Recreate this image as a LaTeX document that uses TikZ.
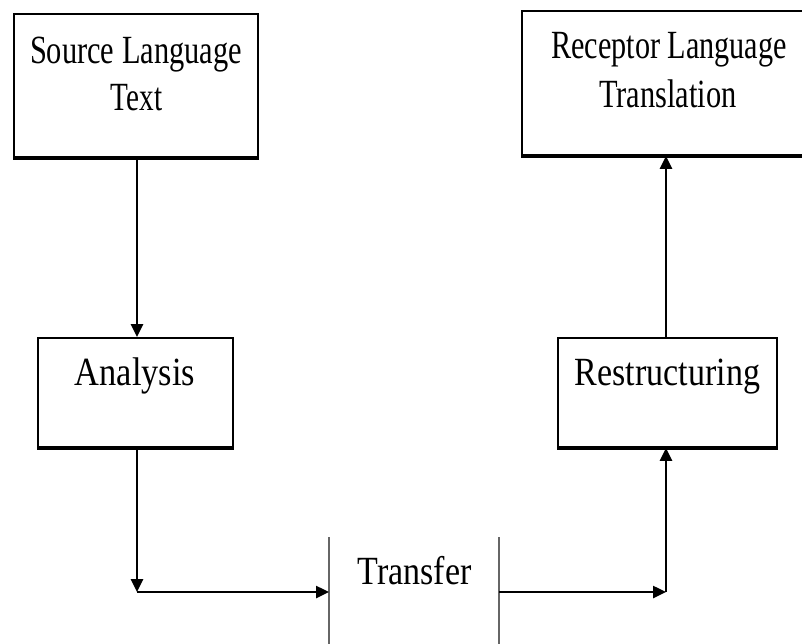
\documentclass[tikz,border=0pt]{standalone}
\usepackage{fontspec}
\setmainfont{Liberation Serif}
\usetikzlibrary{arrows.meta}
\begin{document}
\begin{tikzpicture}[x=1pt,y=-1pt,
  box/.style={draw=black, line width=1.8pt, inner sep=0pt},
  lbl/.style={anchor=base, inner sep=0pt, font=\fontsize{40}{48}\selectfont},
  conn/.style={line width=2.5pt, -{Triangle[length=13pt,width=12pt]}},
  bottomedge/.style={line width=3.8pt},
  bar/.style={draw=black!60, line width=2pt}]
\clip (0,0) rectangle (802,643);
\fill[white] (0,0) rectangle (802,643);
% boxes
\node[box, minimum width=244pt, minimum height=143pt] (src) at (136,85.5) {};
\node[box, minimum width=290pt, minimum height=144pt] (rec) at (667,83) {};
\node[box, minimum width=195pt, minimum height=109pt] (ana) at (135.5,392.5) {};
\node[box, minimum width=219pt, minimum height=109pt] (res) at (667.5,392.5) {};
\foreach \b in {src,rec,ana,res}{
  \draw[bottomedge] ([yshift=-0.5pt]\b.south west) -- ([yshift=-0.5pt]\b.south east);
}
% labels
\node[lbl] (srcA) at (136,63) {\scalebox{0.76}[1]{Source Language}};
\node[lbl] (srcB) at (136.5,110) {\scalebox{0.73}[1]{Text}};
\node[lbl] (recA) at (669,58) {\scalebox{0.755}[1]{Receptor Language}};
\node[lbl] (recB) at (668,107) {\scalebox{0.76}[1]{Translation}};
\node[lbl] (anaT) at (135,385) {\scalebox{0.86}[1]{Analysis}};
\node[lbl] (resT) at (667.5,385) {\scalebox{0.85}[1]{Restructuring}};
\node[lbl] (tr) at (414.5,584) {\scalebox{0.85}[1]{Transfer}};
% transfer bars
\coordinate (bLt) at (329,537);
\coordinate (bLb) at (329,650);
\coordinate (bRt) at (499,537);
\coordinate (bRb) at (499,650);
\draw[bar] (bLt) -- (bLb);
\draw[bar] (bRt) -- (bRb);
\coordinate (inL) at (329,592);
\coordinate (outR) at (499,592);
\coordinate (cL) at (137,592);
\coordinate (cR) at (666,592);
% connectors
\draw[conn] (src.south -| cL) -- (ana.north -| cL);
\draw[conn] (ana.south -| cL) -- (cL);
\draw[conn] (cL) -- (inL);
\draw[conn] (outR) -- (cR);
\draw[conn] (cR) -- (res.south -| cR);
\draw[conn] (res.north -| cR) -- (rec.south -| cR);
\end{tikzpicture}
\end{document}
